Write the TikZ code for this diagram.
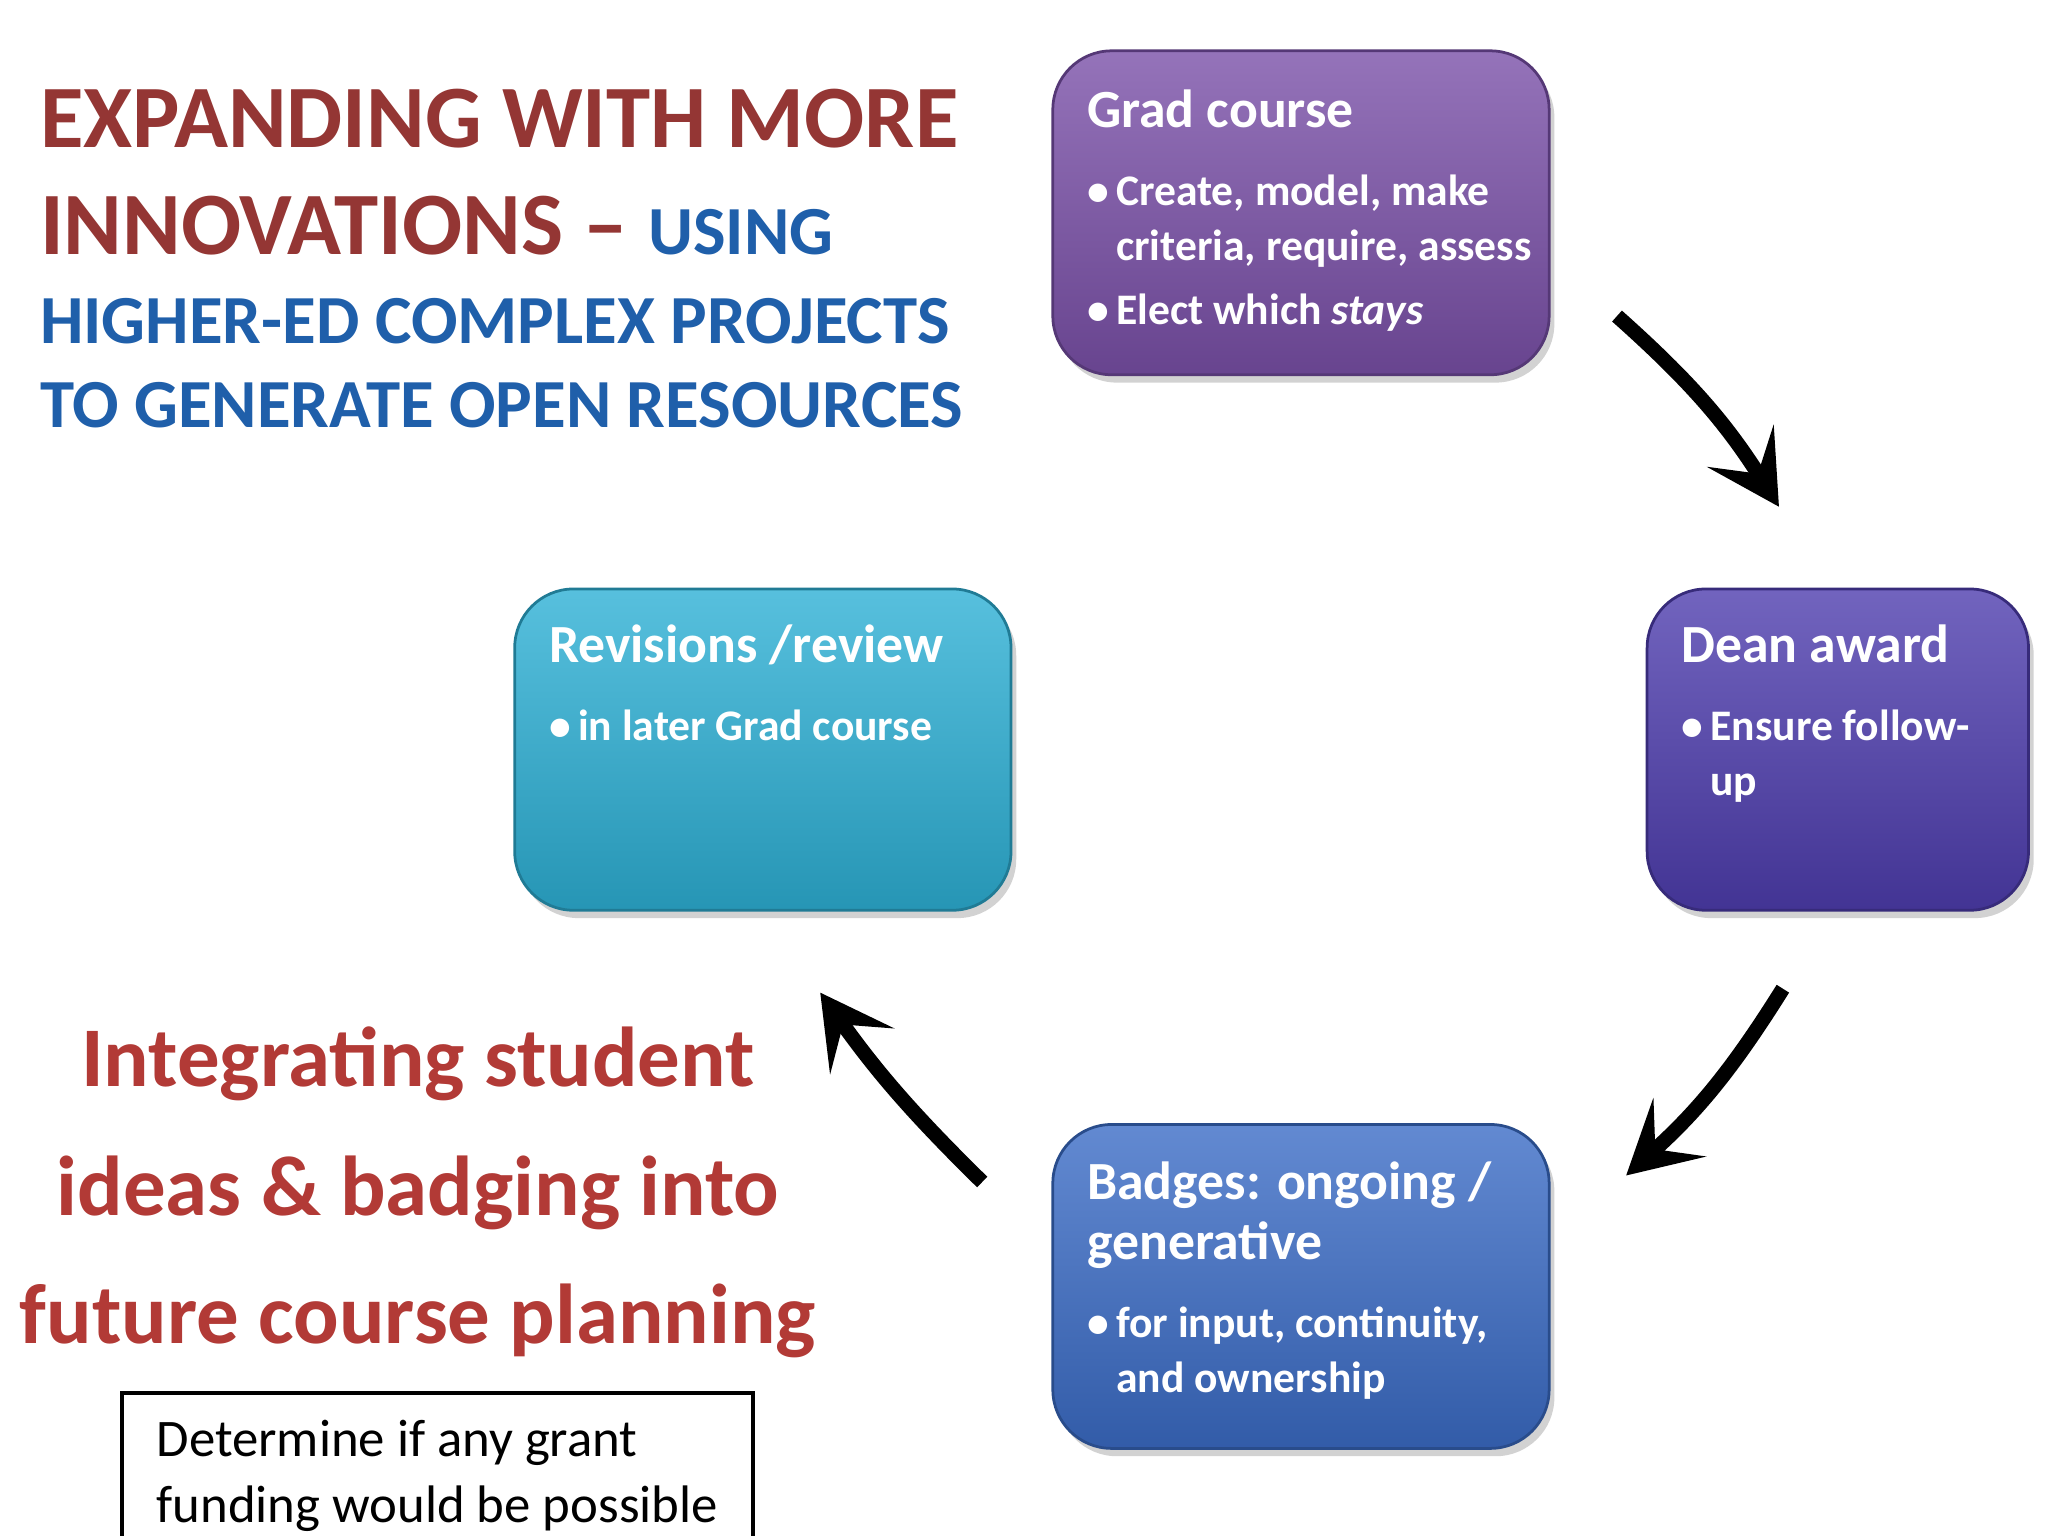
\documentclass[tikz,border=0pt]{standalone}
\usepackage{fontspec}
\setmainfont{Carlito}
\usetikzlibrary{arrows.meta,shadows}
\definecolor{titred}{HTML}{943634}
\definecolor{titblue}{HTML}{1F5FAA}
\definecolor{intred}{HTML}{B23A36}
\definecolor{cgrad}{HTML}{7A50A8}
\definecolor{cdean}{HTML}{4E3DAE}
\definecolor{cbadge}{HTML}{3B6CC6}
\definecolor{crev}{HTML}{2DB0D5}
\tikzset{
 card/.style={rounded corners=0.45cm,draw=#1!70!black,line width=0.6pt,top color=#1!80!white,bottom color=#1!85!black,drop shadow={opacity=0.35,shadow xshift=0.04cm,shadow yshift=-0.06cm}},
 cardtxt/.style={anchor=north west,text=white,align=left,font=\bfseries},
 cyc/.style={line width=3.2pt,-{Stealth[length=0.55cm,width=0.6cm,inset=0.25cm]}}
}
\newcommand{\ctitle}{\fontsize{11.7}{14}\selectfont}
\newcommand{\cbody}{\fontsize{9.5}{12.5}\selectfont}
\begin{document}
\begin{tikzpicture}
\useasboundingbox (0,0) rectangle (15.68,11.76);
\fill[white] (0,0) rectangle (15.68,11.76);
% title
\node[anchor=base west,text=titred,font=\fontsize{19.4}{23}\selectfont\bfseries,inner sep=0] (t1) at (0.3,10.63) {EXPANDING WITH MORE};
\node[anchor=base west,inner sep=0] (t2) at (0.3,9.81) {\textcolor{titred}{\fontsize{19.4}{23}\selectfont\bfseries INNOVATIONS – }\textcolor{titblue}{\fontsize{15}{18}\selectfont\bfseries USING}};
\node[anchor=base west,text=titblue,font=\fontsize{15}{18}\selectfont\bfseries,inner sep=0] (t3) at (0.3,9.13) {HIGHER-ED COMPLEX PROJECTS};
\node[anchor=base west,text=titblue,font=\fontsize{15}{18}\selectfont\bfseries,inner sep=0] (t4) at (0.3,8.49) {TO GENERATE OPEN RESOURCES};
% cards
\node[card=cgrad,minimum width=3.8cm,minimum height=2.48cm,anchor=south west] (g) at (8.05,8.88) {};
\node[cardtxt] (gt) at (8.2,11.2) {\ctitle Grad course\\[5pt]
\cbody\textbullet\,Create, model, make\\
\cbody\phantom{\textbullet\,}criteria, require, assess\\[2pt]
\cbody\textbullet\,Elect which \textit{stays}};
\node[card=cdean,minimum width=2.92cm,minimum height=2.46cm,anchor=south west] (d) at (12.60,4.78) {};
\node[cardtxt] (dt) at (12.75,7.1) {\ctitle Dean award\\[5pt]
\cbody\textbullet\,Ensure follow-\\
\cbody\phantom{\textbullet\,}up};
\node[card=cbadge,minimum width=3.8cm,minimum height=2.48cm,anchor=south west] (b) at (8.05,0.66) {};
\node[cardtxt] (bt) at (8.2,2.99) {\ctitle Badges: ongoing /\\[1pt]
\ctitle generative\\[5pt]
\cbody\textbullet\,for input, continuity,\\
\cbody\phantom{\textbullet\,}and ownership};
\node[card=crev,minimum width=3.8cm,minimum height=2.46cm,anchor=south west] (r) at (3.93,4.78) {};
\node[cardtxt] (rt) at (4.08,7.1) {\ctitle Revisions /review\\[5pt]
\cbody\textbullet\,in later Grad course};
% arrows
\coordinate (a1s) at (12.38,9.34); \coordinate (a1e) at (13.62,7.88);
\coordinate (a2s) at (13.65,4.19); \coordinate (a2e) at (12.45,2.76);
\coordinate (a3s) at (7.52,2.71);  \coordinate (a3e) at (6.28,4.16);
\draw[cyc] (a1s) to[bend left=8] (a1e);
\draw[cyc] (a2s) to[bend left=8] (a2e);
\draw[cyc] (a3s) to[bend left=5] (a3e);
% integrating text
\node[text=intred,font=\fontsize{18.5}{22}\selectfont\bfseries,align=center,inner sep=0] (it) at (3.2,2.63) {Integrating student\\[6pt] ideas \& badging into\\[6pt] future course planning};
% grant box
\node[draw=black,line width=0.8pt,anchor=north west,minimum width=4.83cm,minimum height=1.2cm,align=left,font=\fontsize{11.5}{14.5}\selectfont,inner xsep=0.15cm,inner ysep=0.12cm,text depth=0pt] (gr) at (0.92,1.11) {Determine if any grant\\ funding would be possible};
\end{tikzpicture}
\end{document}
